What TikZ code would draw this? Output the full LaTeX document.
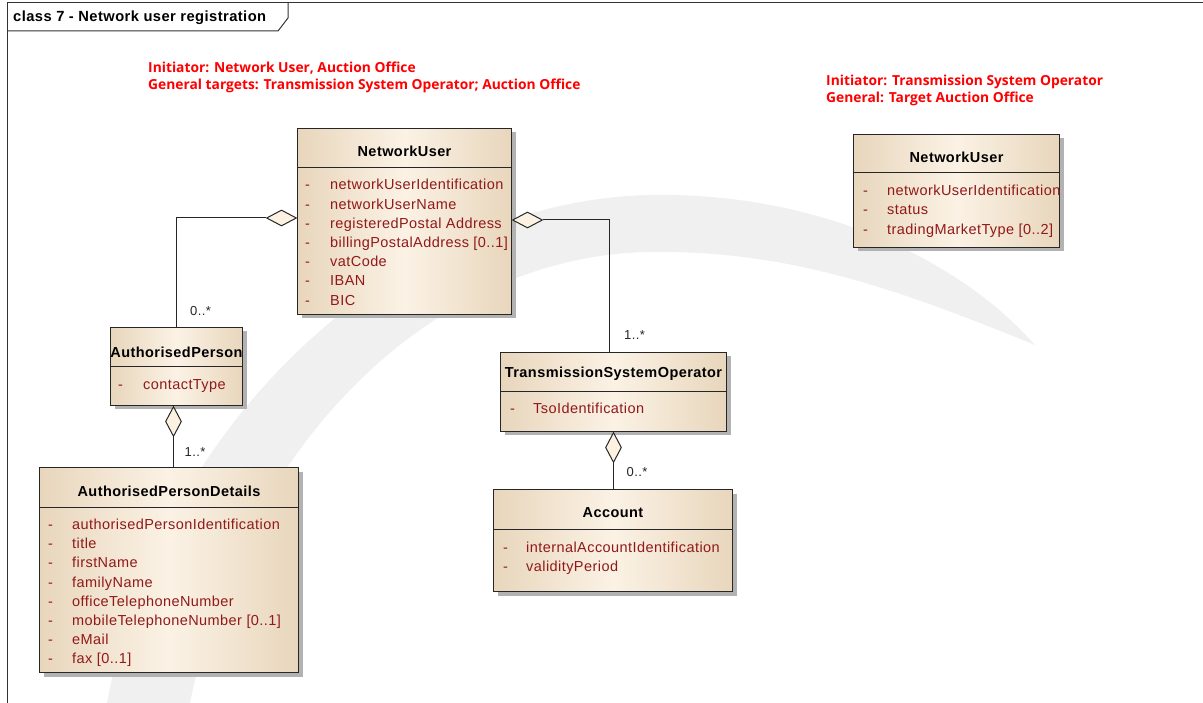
\documentclass[tikz,border=0pt]{standalone}
\usepackage{fontspec}
\setmainfont{Liberation Sans}
\newfontfamily\umlfont[LetterSpace=3]{Liberation Sans}
\newfontfamily\notefont{Open Sans}
\usetikzlibrary{shapes.geometric,shadows,calc}

\definecolor{tanedge}{RGB}{232,214,188}
\definecolor{tanmid}{RGB}{251,242,229}
\definecolor{attrred}{RGB}{145,25,25}
\definecolor{notered}{RGB}{255,0,0}
\definecolor{swoosh}{RGB}{240,240,240}
\definecolor{diafill}{RGB}{253,242,226}

\tikzset{
  classbox/.style={draw=black!85, line width=1pt, anchor=north west, inner sep=0pt,
    left color=tanedge, right color=tanedge, middle color=tanmid,
    drop shadow={shadow xshift=4pt, shadow yshift=-4pt, fill=black!30, opacity=1}},
  classname/.style={font=\umlfont\bfseries\fontsize{14.5}{17}\selectfont, text=black, inner sep=0pt},
  attrdash/.style={font=\umlfont\fontsize{14.5}{17}\selectfont, text=attrred, anchor=west,
    inner sep=0pt, text height=10pt, text depth=3pt},
  attrname/.style={attrdash},
  mult/.style={font=\umlfont\fontsize{13}{15}\selectfont, text=black!85, fill=white, inner sep=1pt},
  aggr/.style={draw=black!85, line width=1pt, fill=diafill, diamond, inner sep=0pt},
  link/.style={draw=black!85, line width=1pt},
  frame/.style={draw=black!80, line width=1pt},
  note/.style={font=\notefont\bfseries\fontsize{13.8}{16}\selectfont, text=notered, anchor=west, inner sep=0pt},
}

\begin{document}
\begin{tikzpicture}[x=1pt,y=-1pt]
        \useasboundingbox (0,0) rectangle (1203,703);
        % background swoosh
        \fill[swoosh] (107,703) .. controls (160,420) and (400,200) .. (650,195)
                      .. controls (820,192) and (960,260) .. (1035,345)
                      .. controls (900,290) and (790,250) .. (650,252)
                      .. controls (430,255) and (240,450) .. (190,703) -- cycle;

        % diagram frame
        \draw[frame] (7,703) -- (7,3) -- (1203,3);
        \draw[frame] (7,31) -- (278,31) -- (288,18) -- (288,3);
        \node[anchor=west, inner sep=0pt, font=\umlfont\bfseries\fontsize{14.7}{17}\selectfont] (frametitle) at (13,18) {class 7 - Network user registration};

        % notes
        \node[note] (noteA1) at (148,68) {Initiator: Network User, Auction Office};
        \node[note] (noteA2) at (148,86) {General targets: Transmission System Operator; Auction Office};
        \node[note] (noteB1) at (826,82) {Initiator: Transmission System Operator};
        \node[note] (noteB2) at (826,99) {General: Target Auction Office};

        % NetworkUser
        \node[classbox, minimum width=214pt, minimum height=186pt] (nu) at (297,128) {};
        \draw[link] ([yshift=-40pt]nu.north west) -- ([yshift=-40pt]nu.north east);
        \node[classname] (nu-t) at ([yshift=-23pt]nu.north) {NetworkUser};
        \foreach \a [count=\i] in {networkUserIdentification, networkUserName, registeredPostal Address,
                                   billingPostalAddress [0..1], vatCode, IBAN, BIC} {
            \node[attrdash] (nu-d\i) at ($(nu.north west)+(8,39.3+19.2*\i)$) {-};
            \node[attrname] (nu-a\i) at ($(nu.north west)+(33,39.3+19.2*\i)$) {\a};
        }

        % AuthorisedPerson
        \node[classbox, minimum width=132pt, minimum height=78pt] (ap) at (110,327) {};
        \draw[link] ([yshift=-40pt]ap.north west) -- ([yshift=-40pt]ap.north east);
        \node[classname] (ap-t) at ([yshift=-25pt]ap.north) {AuthorisedPerson};
        \node[attrdash] (ap-d1) at ($(ap.north west)+(8,59)$) {-};
        \node[attrname] (ap-a1) at ($(ap.north west)+(33,59)$) {contactType};

        % AuthorisedPersonDetails
        \node[classbox, minimum width=259pt, minimum height=205pt] (apd) at (39,467) {};
        \draw[link] ([yshift=-40pt]apd.north west) -- ([yshift=-40pt]apd.north east);
        \node[classname] (apd-t) at ([yshift=-24pt]apd.north) {AuthorisedPersonDetails};
        \foreach \a [count=\i] in {authorisedPersonIdentification, title, firstName, familyName,
                                   officeTelephoneNumber, mobileTelephoneNumber [0..1], eMail, fax [0..1]} {
            \node[attrdash] (apd-d\i) at ($(apd.north west)+(9,39.8+19.2*\i)$) {-};
            \node[attrname] (apd-a\i) at ($(apd.north west)+(33,39.8+19.2*\i)$) {\a};
        }

        % TransmissionSystemOperator
        \node[classbox, minimum width=226pt, minimum height=79pt] (tso) at (500,352) {};
        \draw[link] ([yshift=-40pt]tso.north west) -- ([yshift=-40pt]tso.north east);
        \node[classname] (tso-t) at ([yshift=-22pt]tso.north) {TransmissionSystemOperator};
        \node[attrdash] (tso-d1) at ($(tso.north west)+(10,58)$) {-};
        \node[attrname] (tso-a1) at ($(tso.north west)+(33,58)$) {TsoIdentification};

        % Account
        \node[classbox, minimum width=239pt, minimum height=102pt] (acc) at (493,489) {};
        \draw[link] ([yshift=-40pt]acc.north west) -- ([yshift=-40pt]acc.north east);
        \node[classname] (acc-t) at ([yshift=-24pt]acc.north) {Account};
        \foreach \a [count=\i] in {internalAccountIdentification, validityPeriod} {
            \node[attrdash] (acc-d\i) at ($(acc.north west)+(10,40.8+19.2*\i)$) {-};
            \node[attrname] (acc-a\i) at ($(acc.north west)+(33,40.8+19.2*\i)$) {\a};
        }

        % NetworkUser (status)
        \node[classbox, minimum width=206pt, minimum height=113pt] (nus) at (853,134) {};
        \draw[link] ([yshift=-39pt]nus.north west) -- ([yshift=-39pt]nus.north east);
        \node[classname] (nus-t) at ([yshift=-23pt]nus.north) {NetworkUser};
        \foreach \a [count=\i] in {networkUserIdentification, status, tradingMarketType [0..2]} {
            \node[attrdash] (nus-d\i) at ($(nus.north west)+(10,39+19.2*\i)$) {-};
            \node[attrname] (nus-a\i) at ($(nus.north west)+(34,39+19.2*\i)$) {\a};
        }

        % aggregations
        \node[aggr, minimum width=30pt, minimum height=16pt, anchor=east] (nu-agl) at ([yshift=-90pt]nu.north west) {};
        \node[aggr, minimum width=30pt, minimum height=16pt, anchor=west] (nu-agr) at ([yshift=-92pt]nu.north east) {};
        \node[aggr, minimum width=16pt, minimum height=30pt, anchor=north] (ap-ag) at ([xshift=-3pt]ap.south) {};
        \node[aggr, minimum width=16pt, minimum height=30pt, anchor=north] (tso-ag) at (tso.south) {};

        \draw[link] (nu-agl.west) -| (ap.north);
        \draw[link] (nu-agr.east) -| ([xshift=-4pt]tso.north);
        \draw[link] (ap-ag.south) -- (ap-ag.south |- apd.north);
        \draw[link] (tso-ag.south) -- (tso-ag.south |- acc.north);

        % multiplicities
        \node[mult] (ap-m) at ([xshift=24pt,yshift=16pt]ap.north) {0..*};
        \node[mult] (apd-m) at ([xshift=26pt,yshift=15pt]apd.north) {1..*};
        \node[mult] (tso-m) at ([xshift=21pt,yshift=17pt]tso.north) {1..*};
        \node[mult] (acc-m) at ([xshift=24pt,yshift=17pt]acc.north) {0..*};
\end{tikzpicture}
\end{document}
